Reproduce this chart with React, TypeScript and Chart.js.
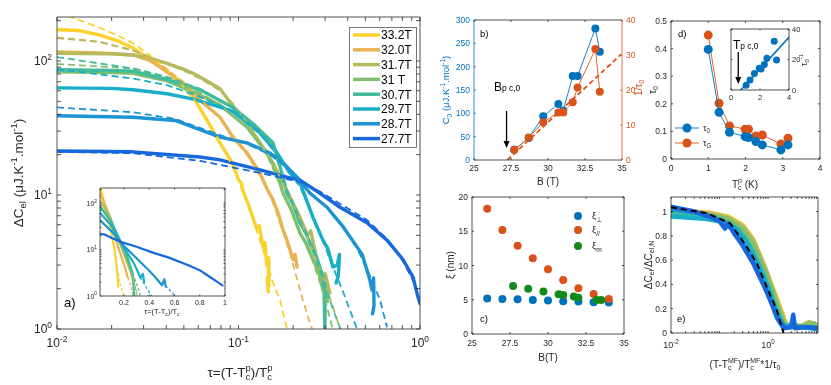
import React, { useEffect, useRef } from "react";
import { Chart, registerables } from "chart.js";
Chart.register(...registerables);

type P = [number, number];
const W = 831;
const H = 385;
const FONT = '"Liberation Sans", Arial, Helvetica, sans-serif';
const AX = "#262626";
const BLUE = "#0072BD";
const ORANGE = "#D95319";
const GREEN = "#128A1A";

// ---------------- Panel a : main (tau, dC) ----------------
const fieldLabels = ["33.2T", "32.0T", "31.7T", "31 T", "30.7T", "29.7T", "28.7T", "27.7T"];
const fieldColors = ["#FBD22B", "#E9B354", "#B5BA5F", "#7FC06F", "#40BB9C", "#18AEC8", "#1C93D2", "#1668DC"];

const solid332: P[] = [[0.01,172],[0.0135,168],[0.01725,156],[0.022,140],[0.0262,125],[0.0325,102],[0.0404,84],[0.0458,72],[0.0561,54],[0.0671,36],[0.079,24.5],[0.0933,17],[0.1,13],[0.104,12.2],[0.1059,10.7],[0.113,8.6],[0.12,6.8],[0.126,5.6],[0.13,5.9],[0.1365,4.1],[0.14,4.4],[0.143,3.0],[0.1455,3.4],[0.147,2.1],[0.144,2.4],[0.146,1.9]];
const dash332: P[] = [[0.01,232],[0.0135,200],[0.01725,177],[0.022,153],[0.0262,136],[0.0325,110],[0.0404,87],[0.0458,74],[0.0561,53],[0.0671,37],[0.079,25],[0.0933,16],[0.1059,10.5],[0.12,6.6],[0.1365,3.9],[0.155,2.2],[0.1693,1.65],[0.185,1.0]];
const solid320: P[] = [[0.01,117],[0.0172,115],[0.0262,111],[0.0325,101],[0.0369,90],[0.0496,68],[0.0614,51],[0.0791,38],[0.0933,27],[0.1114,20.6],[0.1314,14.6],[0.142,11.5],[0.1549,9.2],[0.165,7.4],[0.1759,5.5],[0.183,4.8],[0.1921,3.9],[0.2,3.3],[0.205,3.6],[0.2101,2.9]];
const dash320: P[] = [[0.01,150],[0.01725,139],[0.0262,120],[0.0369,95],[0.0496,70],[0.0614,52],[0.0791,38],[0.0933,27],[0.1114,20],[0.1314,14],[0.1549,8.8],[0.1759,5.3],[0.1921,3.7],[0.2182,1.95],[0.2477,1.1],[0.255,1.0]];
const solid317: P[] = [[0.01,114],[0.02,113],[0.0262,111],[0.0325,105],[0.0404,96],[0.0496,87],[0.0562,81],[0.0671,71],[0.0791,62],[0.0933,46],[0.1114,34],[0.1314,24.5],[0.1549,17.3],[0.1693,13.6],[0.19,10],[0.2182,6.8],[0.24,5],[0.25,5.4],[0.2707,3.3],[0.29,2.4],[0.3,2.6],[0.3192,1.86]];
const dash317: P[] = [[0.01,148],[0.01725,139],[0.0262,120],[0.0325,107],[0.0496,85],[0.0614,74],[0.0791,60],[0.0933,48],[0.1114,35],[0.1314,25],[0.1549,17],[0.19,10],[0.2182,6.6],[0.2707,3.2],[0.3192,1.7],[0.3316,1.46],[0.3625,1.0]];
const solid310: P[] = [[0.01,83],[0.02,82],[0.0262,81],[0.0404,71],[0.0562,59],[0.0791,47],[0.1114,32],[0.1436,20.6],[0.163,14.6],[0.1759,10.3],[0.195,7.8],[0.2182,5.2],[0.235,4.4],[0.2573,3.3],[0.275,2.7],[0.2921,1.95],[0.3,2.2],[0.31,1.6]];
const dash310: P[] = [[0.01,95],[0.0262,88],[0.0404,76],[0.0562,62],[0.0791,47],[0.1114,32],[0.1436,20],[0.1759,10.5],[0.2182,5.3],[0.2573,3.2],[0.2921,1.9],[0.3192,1.2],[0.33,1.0]];
const solid307: P[] = [[0.01,86],[0.02,85],[0.0262,84],[0.0404,73],[0.0614,61],[0.0933,45],[0.1202,34],[0.1549,24.5],[0.17,16],[0.185,10.3],[0.2,8.5],[0.2182,6.2],[0.235,5.2],[0.2573,3.9],[0.27,3.4],[0.2921,2.44],[0.296,2.0],[0.2996,0.9]];
const dash307: P[] = [[0.01,107],[0.0262,88],[0.0404,76],[0.0614,62],[0.0933,45],[0.1202,34],[0.1549,23],[0.185,11],[0.2182,6.4],[0.2573,3.8],[0.2921,2.4],[0.3316,1.4],[0.365,1.0]];
const solid297: P[] = [[0.01,63],[0.02,62.5],[0.0262,61],[0.0404,57],[0.0562,52],[0.0761,46],[0.0933,42],[0.1314,29],[0.163,20.6],[0.1921,14.6],[0.2182,12.3],[0.2573,6.8],[0.2921,4.6],[0.31,4.0],[0.3316,2.9],[0.35,3.0],[0.36,3.6],[0.355,2.5],[0.345,2.2]];
const dash297: P[] = [[0.01,87],[0.0262,74],[0.0404,66],[0.0614,54],[0.0933,42],[0.1314,29],[0.163,20],[0.1921,14.5],[0.2182,11.5],[0.2573,7],[0.2921,4.5],[0.3316,2.9],[0.3765,1.9],[0.4498,1.0]];
const solid287: P[] = [[0.01,39],[0.0262,38],[0.0447,36],[0.0791,27],[0.1114,24.5],[0.1492,20.6],[0.185,16.2],[0.2101,13.6],[0.2477,10.3],[0.3073,8.1],[0.3765,5.8],[0.4498,4.1],[0.48,3.6],[0.5105,2.75],[0.53,2.3],[0.5439,1.95],[0.555,2.4],[0.558,1.5],[0.548,1.3]];
const dash287: P[] = [[0.01,45],[0.0262,41.5],[0.0447,37],[0.0791,28],[0.1114,24],[0.1492,20],[0.185,16],[0.2477,10.5],[0.3073,8],[0.3765,5.8],[0.4498,4],[0.5105,2.8],[0.602,1.65],[0.658,1.03]];
const solid277: P[] = [[0.01,21.3],[0.0262,21],[0.0614,19.2],[0.0791,18.3],[0.1314,15.4],[0.185,13.6],[0.2182,12.9],[0.2812,10.3],[0.3625,8.1],[0.5105,6.2],[0.658,4.6],[0.806,3.3],[0.915,2.44],[0.975,1.73],[1.0,1.55]];
const dash277: P[] = [[0.01,21],[0.0262,20.5],[0.0614,18],[0.1314,14.6],[0.2182,12.5],[0.2812,10.6],[0.3625,8.6],[0.5105,6.5],[0.658,4.7],[0.806,3.2],[0.915,2.3],[1.0,1.6]];
const mainSolid = [solid332, solid320, solid317, solid310, solid307, solid297, solid287, solid277];
const mainDash = [dash332, dash320, dash317, dash310, dash307, dash297, dash287, dash277];

// ---------------- Panel a : inset (linear tau) ----------------
const in332: P[] = [[0.01,230],[0.05,90],[0.08,40],[0.1,22],[0.12,12],[0.14,5],[0.15,2.5],[0.155,1.6]];
const inD332: P[] = [[0.14,5],[0.17,1.8],[0.2,1.0]];
const in320: P[] = [[0.01,160],[0.06,80],[0.1,35],[0.14,15],[0.18,7],[0.21,4],[0.23,2.5]];
const inD320: P[] = [[0.21,4],[0.25,1.8],[0.27,1.0]];
const in317: P[] = [[0.01,112],[0.08,60],[0.14,22],[0.2,8],[0.25,3.5],[0.28,1.8]];
const inD317: P[] = [[0.25,3.5],[0.3,1.3],[0.31,1.0]];
const in310: P[] = [[0.01,88],[0.08,50],[0.14,22],[0.2,9],[0.25,4],[0.28,2]];
const inD310: P[] = [[0.26,3.2],[0.29,1.5],[0.3,1.0]];
const in307: P[] = [[0.01,82],[0.1,40],[0.16,18],[0.22,8],[0.27,3],[0.28,1]];
const inD307: P[] = [[0.27,3],[0.32,1.3],[0.33,1.0]];
const in297: P[] = [[0.01,62],[0.1,33],[0.2,11],[0.28,5],[0.33,2.5],[0.35,3],[0.36,2]];
const inD297: P[] = [[0.33,2.5],[0.4,1.2],[0.42,1.0]];
const in287: P[] = [[0.01,43],[0.1,25],[0.2,12],[0.3,6.5],[0.4,3.5],[0.45,2.5],[0.5,1.7],[0.52,2.3],[0.53,1.6]];
const inD287: P[] = [[0.5,2],[0.58,1.2],[0.6,1.0]];
const in277: P[] = [[0.01,22],[0.05,21],[0.1,18],[0.18,14.5],[0.3,11.5],[0.44,8.4],[0.55,6.8],[0.71,4.6],[0.8,3.6],[0.86,2.8],[0.93,2.1],[0.98,1.7]];
const insetSolid = [in332, in320, in317, in310, in307, in297, in287, in277];
const insetDash = [inD332, inD320, inD317, inD310, inD307, inD297, inD287, null];

// ---------------- Panel b ----------------
const bField = [27.72, 28.7, 29.68, 30.7, 31.03, 31.67, 32.0, 33.2, 33.5];
const bC0 = [22, 47, 94, 120, 106, 180, 180, 282, 232];
const bInvTau = [2.9, 6.4, 10.8, 13.6, 13.6, 16.5, 20.7, 31.7, 19.5];
const bFit: P[] = [[27.25, 0], [34.95, 30.2]];

// ---------------- Panel c ----------------
const cField = [26, 27, 28, 29, 30, 31, 32, 33, 34];
const cXiPerp = [5.2, 5.1, 5.07, 4.98, 4.88, 4.78, 4.73, 4.63, 4.59];
const cXiPar = [18.3, 15.2, 12.9, 11.07, 9.46, 7.9, 6.68, 5.85, 5.12];
const cFieldM = [27.7, 28.7, 29.7, 30.7, 31.0, 31.7, 32.0, 33.2, 33.5];
const cXiM = [7.02, 6.59, 6.2, 5.8, 5.7, 5.46, 5.3, 4.98, 4.98];

// ---------------- Panel d ----------------
const dTc = [1.0, 1.29, 1.57, 1.99, 2.08, 2.28, 2.45, 2.95, 3.14];
const dTau0 = [0.397, 0.169, 0.097, 0.081, 0.078, 0.063, 0.051, 0.033, 0.051];
const dTauG = [0.449, 0.202, 0.12, 0.108, 0.108, 0.083, 0.087, 0.054, 0.075];
const dInTc = [1.04, 1.31, 1.61, 1.95, 2.07, 2.3, 2.48, 2.98, 3.14];
const dInInv = [3.1, 6.6, 10.9, 14.2, 13.8, 16.8, 20.8, 32, 19.7];
const dInFit: P[] = [[0.68, 0], [4, 34.6]];

// ---------------- Panel e ----------------
const e277: P[] = [[0.01,1.04],[0.03,1.0],[0.06,0.96],[0.1,0.92],[0.13,0.86],[0.15,0.9],[0.2,0.82],[0.3,0.72],[0.5,0.57],[0.8,0.4],[1.2,0.24],[1.7,0.1],[2.2,0.04],[3,0.05],[3.3,0.15],[3.6,0.04],[6,0.05],[10.7,0.04]];
const e287: P[] = [[0.01,1.02],[0.05,0.98],[0.1,0.93],[0.2,0.85],[0.35,0.7],[0.6,0.52],[1,0.32],[1.5,0.13],[2,0.05],[5,0.05],[10.7,0.04]];
const e297: P[] = [[0.01,0.96],[0.05,0.94],[0.1,0.92],[0.2,0.87],[0.35,0.76],[0.6,0.58],[1,0.38],[1.5,0.17],[2.2,0.05],[5,0.05],[10.7,0.03]];
const e307: P[] = [[0.01,0.98],[0.05,0.96],[0.12,0.93],[0.25,0.85],[0.45,0.7],[0.8,0.48],[1.3,0.26],[2,0.07],[4,0.05],[10.7,0.04]];
const e310: P[] = [[0.01,1.0],[0.05,0.98],[0.15,0.94],[0.3,0.85],[0.5,0.72],[0.9,0.49],[1.4,0.27],[2.2,0.06],[5,0.05],[9,0.08],[10.7,0.05]];
const e317: P[] = [[0.01,1.0],[0.06,0.98],[0.15,0.95],[0.3,0.88],[0.5,0.76],[0.9,0.52],[1.5,0.27],[2.3,0.07],[5,0.06],[7,0.09],[10.7,0.06]];
const e320: P[] = [[0.01,1.02],[0.06,0.99],[0.15,0.95],[0.3,0.87],[0.5,0.74],[0.9,0.5],[1.5,0.24],[2.3,0.06],[10.7,0.05]];
const e332: P[] = [[0.01,1.0],[0.06,0.99],[0.15,0.96],[0.3,0.89],[0.5,0.77],[0.9,0.52],[1.6,0.26],[2.5,0.05],[10.7,0.05]];
const eCurves = [e332, e320, e317, e310, e307, e297, e287, e277];
const eFit: P[] = [[0.01,1.036],[0.055,0.986],[0.166,0.904],[0.363,0.71],[0.59,0.573],[0.94,0.38],[1.52,0.187],[2.08,0.0]];

// ---------------- tick values / labels ----------------
const logMinor = (lo: number, hi: number) => {
  const out: number[] = [];
  for (let e = lo; e < hi; e++) for (let k = 2; k <= 9; k++) out.push(k * Math.pow(10, e));
  return out;
};
const aXMaj = [0.01, 0.1, 1];
const aYMaj = [1, 10, 100];
const insetXTicks = [0.2, 0.4, 0.6, 0.8, 1];
const insetXLabels = ["0.2", "0.4", "0.6", "0.8", "1"];
const bXTicks = [25, 27.5, 30, 32.5, 35];
const bXLabels = ["25", "27.5", "30", "32.5", "35"];
const bYTicks = [0, 50, 100, 150, 200, 250, 300];
const bY2Ticks = [0, 10, 20, 30, 40];
const cYTicks = [0, 5, 10, 15, 20];
const dXTicks = [0, 1, 2, 3, 4];
const dYTicks = [0, 0.1, 0.2, 0.3, 0.4, 0.5];
const dYLabels = ["0", "0.1", "0.2", "0.3", "0.4", "0.5"];
const dInXTicks = [0, 2, 4];
const dInYTicks = [0, 20, 40];
const eXMaj = [0.01, 0.1, 1, 10];
const eXLab = [0.01, 1];
const eYTicks = [0, 0.2, 0.4, 0.6, 0.8, 1];
const eYLabels = ["0", "0.2", "0.4", "0.6", "0.8", "1"];

// ---------------- drawing helpers ----------------
type Seg = { t: string; m?: string; t2?: string; c?: string };
const S = (t: string, m?: string, t2?: string): Seg => ({ t, m, t2 });

function fnt(size: number) { return `${size}px ${FONT}`; }
function segsWidth(ctx: CanvasRenderingContext2D, segs: Seg[], size: number) {
  let w = 0;
  for (const s of segs) {
    if (!s.m) { ctx.font = fnt(size); w += ctx.measureText(s.t).width; }
    else if (s.m === "ss") { ctx.font = fnt(size * 0.7); w += Math.max(ctx.measureText(s.t).width, ctx.measureText(s.t2 || "").width); }
    else { ctx.font = fnt(size * 0.7); w += ctx.measureText(s.t).width; }
  }
  return w;
}
function drawRich(ctx: CanvasRenderingContext2D, segs: Seg[], x: number, y: number, size: number, color: string, align = "center", rot = 0) {
  ctx.save();
  ctx.translate(x, y);
  if (rot) ctx.rotate(rot);
  ctx.textAlign = "left";
  ctx.textBaseline = "alphabetic";
  const w = segsWidth(ctx, segs, size);
  let cx = align === "center" ? -w / 2 : align === "right" ? -w : 0;
  const base = size * 0.36;
  for (const s of segs) {
    ctx.fillStyle = s.c || color;
    if (!s.m) { ctx.font = fnt(size); ctx.fillText(s.t, cx, base); cx += ctx.measureText(s.t).width; }
    else if (s.m === "sup") { ctx.font = fnt(size * 0.7); ctx.fillText(s.t, cx, base - size * 0.45); cx += ctx.measureText(s.t).width; }
    else if (s.m === "sub") { ctx.font = fnt(size * 0.7); ctx.fillText(s.t, cx, base + size * 0.25); cx += ctx.measureText(s.t).width; }
    else if (s.m === "small") { ctx.font = fnt(size * 0.7); ctx.fillText(s.t, cx, base); cx += ctx.measureText(s.t).width; }
    else {
      ctx.font = fnt(size * 0.7);
      ctx.fillText(s.t, cx, base - size * 0.45);
      ctx.fillText(s.t2 || "", cx, base + size * 0.25);
      cx += Math.max(ctx.measureText(s.t).width, ctx.measureText(s.t2 || "").width);
    }
  }
  ctx.restore();
}
const powLabel = (v: number): Seg[] => [S("10"), S(String(Math.round(Math.log10(v))), "sup")];
const txt = (t: string): Seg[] => [S(t)];

function labelsX(c: any, id: string, vals: number[], labs: Seg[][], y: number, size: number, color = AX) {
  const s = c.scales[id];
  vals.forEach((v, i) => drawRich(c.ctx, labs[i], s.getPixelForValue(v), y, size, color, "center"));
}
function labelsY(c: any, id: string, vals: number[], labs: Seg[][], x: number, size: number, align: string, color = AX) {
  const s = c.scales[id];
  vals.forEach((v, i) => drawRich(c.ctx, labs[i], x, s.getPixelForValue(v), size, color, align));
}

interface FrameOpt {
  xMaj: number[]; xMin?: number[]; yMaj: number[]; yMin?: number[];
  y2?: string; y2Maj?: number[]; len: number; colL?: string; colR?: string;
}
function frame(c: any, o: FrameOpt) {
  const ctx: CanvasRenderingContext2D = c.ctx;
  const a = c.chartArea;
  const xs = c.scales.x, ys = c.scales.y;
  const L = o.len;
  ctx.save();
  ctx.lineWidth = 0.8;
  ctx.strokeStyle = AX;
  ctx.beginPath();
  const xt = (v: number) => {
    const p = xs.getPixelForValue(v);
    ctx.moveTo(p, a.bottom); ctx.lineTo(p, a.bottom - L);
    ctx.moveTo(p, a.top); ctx.lineTo(p, a.top + L);
  };
  o.xMaj.forEach(xt); (o.xMin || []).forEach(xt);
  ctx.moveTo(a.left, a.top); ctx.lineTo(a.right, a.top);
  ctx.moveTo(a.left, a.bottom); ctx.lineTo(a.right, a.bottom);
  ctx.stroke();
  ctx.strokeStyle = o.colL || AX;
  ctx.beginPath();
  const yl = (v: number) => { const p = ys.getPixelForValue(v); ctx.moveTo(a.left, p); ctx.lineTo(a.left + L, p); };
  o.yMaj.forEach(yl); (o.yMin || []).forEach(yl);
  ctx.moveTo(a.left, a.top); ctx.lineTo(a.left, a.bottom);
  ctx.stroke();
  ctx.strokeStyle = o.colR || AX;
  ctx.beginPath();
  const yr = (s: any) => (v: number) => { const p = s.getPixelForValue(v); ctx.moveTo(a.right, p); ctx.lineTo(a.right - L, p); };
  if (o.y2) (o.y2Maj || []).forEach(yr(c.scales[o.y2]));
  else { o.yMaj.forEach(yr(ys)); (o.yMin || []).forEach(yr(ys)); }
  ctx.moveTo(a.right, a.top); ctx.lineTo(a.right, a.bottom);
  ctx.stroke();
  ctx.restore();
}
function arrow(ctx: CanvasRenderingContext2D, x: number, y1: number, y2: number) {
  ctx.save();
  ctx.strokeStyle = "#000"; ctx.fillStyle = "#000"; ctx.lineWidth = 1.3;
  ctx.beginPath(); ctx.moveTo(x, y1); ctx.lineTo(x, y2 - 5); ctx.stroke();
  ctx.beginPath(); ctx.moveTo(x - 3, y2 - 7); ctx.lineTo(x + 3, y2 - 7); ctx.lineTo(x, y2); ctx.closePath(); ctx.fill();
  ctx.restore();
}
function dot(ctx: CanvasRenderingContext2D, x: number, y: number, r: number, color: string) {
  ctx.save(); ctx.fillStyle = color; ctx.beginPath(); ctx.arc(x, y, r, 0, Math.PI * 2); ctx.fill(); ctx.restore();
}

// ---------------- chart config helpers ----------------
const fit = (s: any) => { if (s.isHorizontal()) s.height = 0; else s.width = 0; };
const scale = (type: string, position: string, min: number, max: number) => ({
  type, position, min, max,
  grid: { display: false, drawTicks: false },
  border: { display: false },
  ticks: { display: false },
  afterFit: fit,
});
const line = (d: P[], color: string, width: number, dash?: number[], yAxisID = "y") => ({
  data: d.map(([x, y]) => ({ x, y })),
  borderColor: color, backgroundColor: color, borderWidth: width,
  borderDash: dash || [], borderCapStyle: dash ? "butt" : "round", borderJoinStyle: "round",
  pointRadius: 0, showLine: true, tension: 0, yAxisID,
});
const pts = (xs: number[], ys: number[], color: string, r: number, lw = 0, yAxisID = "y") => ({
  data: xs.map((x, i) => ({ x, y: ys[i] })),
  borderColor: color, backgroundColor: color,
  pointBackgroundColor: color, pointBorderColor: color, pointBorderWidth: 0,
  pointRadius: r, showLine: lw > 0, borderWidth: lw, tension: 0, yAxisID,
});

function cfg(area: number[], scales: any, datasets: any[], deco: (c: any) => void, white = false) {
  return {
    type: "scatter",
    data: { datasets },
    options: {
      responsive: false, maintainAspectRatio: false, animation: false, events: [],
      layout: { padding: { left: area[0], top: area[1], right: W - area[2], bottom: H - area[3] } },
      plugins: { legend: { display: false }, tooltip: { enabled: false } },
      scales,
    },
    plugins: [{
      id: "deco",
      beforeDraw: (c: any) => {
        if (!white) return;
        const a = c.chartArea;
        c.ctx.save(); c.ctx.fillStyle = "#fff"; c.ctx.fillRect(a.left, a.top, a.right - a.left, a.bottom - a.top); c.ctx.restore();
      },
      afterDraw: (c: any) => deco(c),
    }],
  };
}

// ---------------- panels ----------------
function buildMain() {
  const ds: any[] = [];
  for (let i = 7; i >= 0; i--) ds.push(line(mainDash[i], fieldColors[i], 1.8, [7, 4]));
  for (let i = 7; i >= 0; i--) ds.push(line(mainSolid[i], fieldColors[i], 3.4));
  return cfg([57, 17, 420, 329], { x: scale("logarithmic", "bottom", 0.01, 1), y: scale("logarithmic", "left", 1, 213) }, ds, (c) => {
    const ctx = c.ctx;
    frame(c, { xMaj: aXMaj, xMin: logMinor(-2, 0), yMaj: aYMaj, yMin: [...logMinor(0, 2), 200], len: 4 });
    labelsX(c, "x", aXMaj, aXMaj.map(powLabel), 343, 12);
    labelsY(c, "y", aYMaj, aYMaj.map(powLabel), 52, 12, "right");
    drawRich(ctx, [S("ΔC"), S("el", "sub"), S(" (μJ.K"), S("-1", "sup"), S(".mol"), S("-1", "sup"), S(")")], 18, 173, 13.5, AX, "center", -Math.PI / 2);
    drawRich(ctx, [S("τ=(T-T"), S("p", "ss", "c"), S(")/T"), S("p", "ss", "c")], 240, 372, 13.5, AX, "center");
    drawRich(ctx, [S("a)")], 64, 302, 13, "#000", "left");
    // legend
    ctx.save();
    ctx.fillStyle = "#fff"; ctx.fillRect(349, 27, 67, 120);
    ctx.strokeStyle = "#555"; ctx.lineWidth = 0.8; ctx.strokeRect(349.5, 27.5, 67, 120);
    fieldLabels.forEach((lab, i) => {
      const y = 35 + i * 14.8;
      ctx.strokeStyle = fieldColors[i]; ctx.lineWidth = 3.5; ctx.lineCap = "butt";
      ctx.beginPath(); ctx.moveTo(353, y); ctx.lineTo(380, y); ctx.stroke();
      drawRich(ctx, [S(lab)], 381, y, 12, "#000", "left");
    });
    ctx.restore();
  });
}

function buildInsetA() {
  const ds: any[] = [];
  for (let i = 7; i >= 0; i--) { const d = insetDash[i]; if (d) ds.push(line(d, fieldColors[i], 1.2, [3, 2])); }
  for (let i = 7; i >= 0; i--) ds.push(line(insetSolid[i], fieldColors[i], 2.2));
  return cfg([100, 188, 225, 296], { x: scale("linear", "bottom", 0.01, 1), y: scale("logarithmic", "left", 1, 213) }, ds, (c) => {
    frame(c, { xMaj: insetXTicks, yMaj: aYMaj, yMin: [...logMinor(0, 2), 200], len: 1.5 });
    labelsX(c, "x", insetXTicks, insetXLabels.map(txt), 302, 7);
    labelsY(c, "y", aYMaj, aYMaj.map(powLabel), 97, 7, "right");
    drawRich(c.ctx, [S("τ=(T-T"), S("c", "sub"), S(")/T"), S("c", "sub")], 162, 311, 7.5, AX, "center");
  }, true);
}

function buildB() {
  const ds = [
    line(bFit, ORANGE, 1.8, [5, 3], "y2"),
    pts(bField, bInvTau, ORANGE, 4, 0.9, "y2"),
    pts(bField, bC0, BLUE, 4, 0.9, "y"),
  ];
  return cfg([474, 20, 622, 160], {
    x: scale("linear", "bottom", 25, 35),
    y: scale("linear", "left", 0, 300),
    y2: scale("linear", "right", 0, 40),
  }, ds, (c) => {
    const ctx = c.ctx;
    frame(c, { xMaj: bXTicks, yMaj: bYTicks, y2: "y2", y2Maj: bY2Ticks, len: 2, colL: BLUE, colR: ORANGE });
    labelsX(c, "x", bXTicks, bXLabels.map(txt), 168, 8.5);
    labelsY(c, "y", bYTicks, bYTicks.map((v) => txt(String(v))), 470, 8.5, "right", BLUE);
    labelsY(c, "y2", bY2Ticks, bY2Ticks.map((v) => txt(String(v))), 626, 8.5, "left", ORANGE);
    drawRich(ctx, [S("C"), S("0", "sub"), S(" (μJ.K"), S("-1", "sup"), S(".mol"), S("-1", "sup"), S(")")], 446, 90, 9.5, BLUE, "center", -Math.PI / 2);
    drawRich(ctx, [S("1/τ"), S("0", "sub")], 638, 88, 10, ORANGE, "center", -Math.PI / 2);
    drawRich(ctx, [S("B (T)")], 548, 181, 10, AX, "center");
    drawRich(ctx, [S("b)")], 480, 34, 9.5, "#000", "left");
    const ax = c.scales.x.getPixelForValue(27.2);
    arrow(ctx, ax, 111, 148);
    drawRich(ctx, [S("B"), S("p c,0", "small")], 494, 87, 12, "#000", "left");
  });
}

function buildC() {
  const ds = [
    pts(cFieldM, cXiM, GREEN, 4),
    pts(cField, cXiPar, ORANGE, 4),
    pts(cField, cXiPerp, BLUE, 4),
  ];
  return cfg([472, 197, 624, 334], { x: scale("linear", "bottom", 25, 35), y: scale("linear", "left", 0, 20) }, ds, (c) => {
    const ctx = c.ctx;
    frame(c, { xMaj: bXTicks, yMaj: cYTicks, len: 2 });
    labelsX(c, "x", bXTicks, bXLabels.map(txt), 343, 8.5);
    labelsY(c, "y", cYTicks, cYTicks.map((v) => txt(String(v))), 468, 8.5, "right");
    drawRich(ctx, [S("B(T)")], 548, 357, 10, AX, "center");
    drawRich(ctx, [S("ξ (nm)")], 450, 265, 10, AX, "center", -Math.PI / 2);
    drawRich(ctx, [S("c)")], 480, 319, 9.5, "#000", "left");
    const leg: [string, string, number][] = [[BLUE, "⊥", 216], [ORANGE, "//", 230], [GREEN, "m", 246]];
    leg.forEach(([col, sub, y]) => {
      dot(ctx, 578, y, 4, col);
      drawRich(ctx, [S("ξ"), S(sub, "sub")], 592, y, 9.5, AX, "left");
    });
  });
}

function buildD() {
  const ds = [
    pts(dTc, dTau0, BLUE, 4.5, 0.9),
    pts(dTc, dTauG, ORANGE, 4.5, 0.9),
  ];
  return cfg([671, 21, 820, 159], { x: scale("linear", "bottom", 0, 4), y: scale("linear", "left", 0, 0.5) }, ds, (c) => {
    const ctx = c.ctx;
    frame(c, { xMaj: dXTicks, yMaj: dYTicks, len: 2 });
    labelsX(c, "x", dXTicks, dXTicks.map((v) => txt(String(v))), 168, 8.5);
    labelsY(c, "y", dYTicks, dYLabels.map(txt), 667, 8.5, "right");
    drawRich(ctx, [S("T"), S("p", "ss", "c"), S(" (K)")], 745, 184, 10, AX, "center");
    drawRich(ctx, [S("τ"), S("0", "sub")], 652, 90, 10, AX, "center", -Math.PI / 2);
    drawRich(ctx, [S("d)")], 678, 34, 9.5, "#000", "left");
    const leg: [string, string, number][] = [[BLUE, "0", 128], [ORANGE, "G", 143]];
    leg.forEach(([col, sub, y]) => {
      ctx.save(); ctx.strokeStyle = col; ctx.lineWidth = 0.9;
      ctx.beginPath(); ctx.moveTo(675, y); ctx.lineTo(699, y); ctx.stroke(); ctx.restore();
      dot(ctx, 687, y, 4.5, col);
      drawRich(ctx, [S("τ"), S(sub, "sub")], 703, y, 9, AX, "left");
    });
  });
}

function buildDInset() {
  const ds = [
    line(dInFit, BLUE, 1.6),
    pts(dInTc, dInInv, BLUE, 3.5),
  ];
  return cfg([731, 29, 789, 90], { x: scale("linear", "bottom", 0, 4), y: scale("linear", "left", 0, 40) }, ds, (c) => {
    const ctx = c.ctx;
    frame(c, { xMaj: dInXTicks, yMaj: dInYTicks, len: 1.5 });
    labelsX(c, "x", dInXTicks, dInXTicks.map((v) => txt(String(v))), 97, 7.5);
    labelsY(c, "y", dInYTicks, dInYTicks.map((v) => txt(String(v))), 792, 7.5, "left");
    drawRich(ctx, [S("τ"), S("0", "sub"), S("-1", "sup")], 804, 60, 8.5, AX, "center", -Math.PI / 2);
    const ax = c.scales.x.getPixelForValue(0.5);
    arrow(ctx, ax, 52, 84);
    drawRich(ctx, [S("T"), S("p c,0", "small")], 733, 45, 12, "#000", "left");
  }, true);
}

function buildE() {
  const ds: any[] = [line(eFit, "#000", 2, [6, 4])];
  for (let i = 7; i >= 0; i--) ds.push(line(eCurves[i], fieldColors[i], 4.5));
  return cfg([671, 197, 818, 333], { x: scale("logarithmic", "bottom", 0.01, 10.7), y: scale("linear", "left", 0, 1.12) }, ds, (c) => {
    const ctx = c.ctx;
    frame(c, { xMaj: eXMaj, xMin: logMinor(-2, 1), yMaj: eYTicks, len: 2 });
    labelsX(c, "x", eXLab, eXLab.map(powLabel), 345, 9);
    labelsY(c, "y", eYTicks, eYLabels.map(txt), 667, 8.5, "right");
    drawRich(ctx, [S("(T-T"), S("MF", "ss", "c"), S(")/T"), S("MF", "ss", "c"), S("*1/τ"), S("0", "sub")], 745, 364, 10, AX, "center");
    drawRich(ctx, [S("ΔC"), S("el", "sub"), S("/ΔC"), S("el,N", "sub")], 648, 265, 10, AX, "center", -Math.PI / 2);
    drawRich(ctx, [S("e)")], 677, 319, 9.5, "#000", "left");
  });
}

function Panel({ build }: { build: () => any }) {
  const ref = useRef<HTMLCanvasElement>(null);
  useEffect(() => {
    const ch = new Chart(ref.current as HTMLCanvasElement, build() as any);
    return () => ch.destroy();
  }, []);
  return (
    <canvas ref={ref} width={W} height={H}
      style={{ position: "absolute", left: 0, top: 0, width: W, height: H }} />
  );
}

export default function App() {
  return (
    <div style={{ position: "absolute", left: 0, top: 0, width: W, height: H, background: "#fff", overflow: "hidden" }}>
      <Panel build={buildMain} />
      <Panel build={buildInsetA} />
      <Panel build={buildB} />
      <Panel build={buildC} />
      <Panel build={buildD} />
      <Panel build={buildDInset} />
      <Panel build={buildE} />
    </div>
  );
}
